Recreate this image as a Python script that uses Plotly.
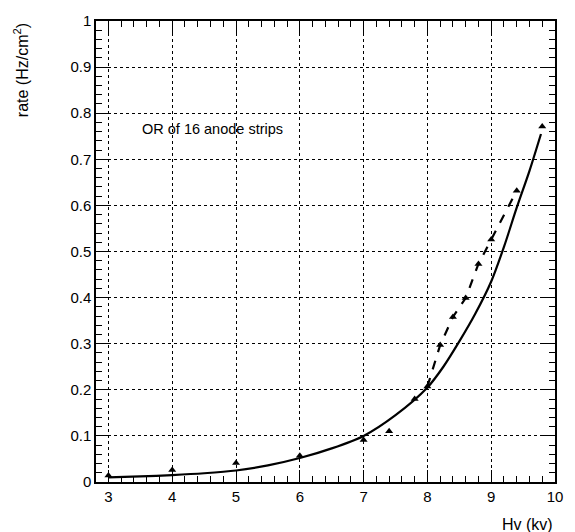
import plotly.graph_objects as go

# measured points (triangles)
hv_pts = [3.0, 4.0, 5.0, 6.0, 7.0, 7.4, 7.8, 8.0, 8.2, 8.4, 8.6, 8.8, 9.0, 9.4, 9.8]
rate_pts = [0.014, 0.026, 0.041, 0.057, 0.091, 0.110, 0.180, 0.207, 0.297, 0.358, 0.399, 0.473, 0.526, 0.632, 0.771]

# dashed connection of high-voltage points
hv_dash = [8.0, 8.2, 8.4, 8.6, 8.8, 9.0, 9.4]
rate_dash = [0.207, 0.297, 0.358, 0.399, 0.473, 0.526, 0.632]

# solid fit curve
hv_fit = [3.0, 3.5, 4.0, 4.5, 5.0, 5.5, 6.0, 6.5, 7.0, 7.5, 8.0, 8.25, 8.5, 8.75, 9.0, 9.2, 9.4, 9.6, 9.78]
rate_fit = [0.010, 0.012, 0.015, 0.019, 0.025, 0.036, 0.052, 0.073, 0.100, 0.145, 0.205, 0.250, 0.305, 0.365, 0.435, 0.510, 0.595, 0.675, 0.755]

font = "Liberation Sans, Arial, sans-serif"

fig = go.Figure()
fig.add_trace(go.Scatter(x=hv_fit, y=rate_fit, mode="lines", line=dict(color="black", width=2.2, shape="spline", smoothing=0.8), showlegend=False))
fig.add_trace(go.Scatter(x=hv_dash, y=rate_dash, mode="lines", line=dict(color="black", width=2.2, dash="dash"), showlegend=False))
fig.add_trace(go.Scatter(x=hv_pts, y=rate_pts, mode="markers", marker=dict(symbol="triangle-up", size=7, color="black"), showlegend=False))

fig.update_xaxes(range=[2.805, 10], tickmode="linear", tick0=3, dtick=1,
                 showline=True, linecolor="black", linewidth=1.5, mirror="ticks",
                 ticks="inside", ticklen=12, tickwidth=1, tickcolor="black",
                 showgrid=True, gridcolor="black", gridwidth=1, griddash="dot", zeroline=False,
                 tickfont=dict(family=font, size=15, color="black"),
                 minor=dict(tickmode="linear", tick0=3, dtick=0.2, ticks="inside", ticklen=6, tickcolor="black", tickwidth=1))
fig.update_yaxes(range=[0, 1], tickmode="linear", tick0=0, dtick=0.1,
                 showline=True, linecolor="black", linewidth=1.5, mirror="ticks",
                 ticks="inside", ticklen=12, tickwidth=1, tickcolor="black",
                 showgrid=True, gridcolor="black", gridwidth=1, griddash="dot", zeroline=False,
                 tickfont=dict(family=font, size=15, color="black"),
                 minor=dict(ticks="inside", ticklen=6, tickcolor="black", tickwidth=1, dtick=0.02))

fig.add_annotation(x=3.5, y=0.765, xref="x", yref="y", text="OR of 16 anode strips", showarrow=False,
                   xanchor="left", yanchor="middle", font=dict(family=font, size=14.5, color="black"))
fig.add_annotation(x=1.0, y=-0.07, xref="paper", yref="paper", text="Hv (kv)", showarrow=False,
                   xanchor="right", yanchor="top", font=dict(family=font, size=16, color="black"))
fig.add_annotation(x=-0.163, y=1.0, xref="paper", yref="paper", text="rate (Hz/cm<sup>2</sup>)", showarrow=False,
                   textangle=-90, xanchor="center", yanchor="top", font=dict(family=font, size=16, color="black"))

fig.update_layout(width=575, height=532, margin=dict(l=96, r=12, t=13, b=50),
                  paper_bgcolor="white", plot_bgcolor="white")
fig.write_html("out.html")
